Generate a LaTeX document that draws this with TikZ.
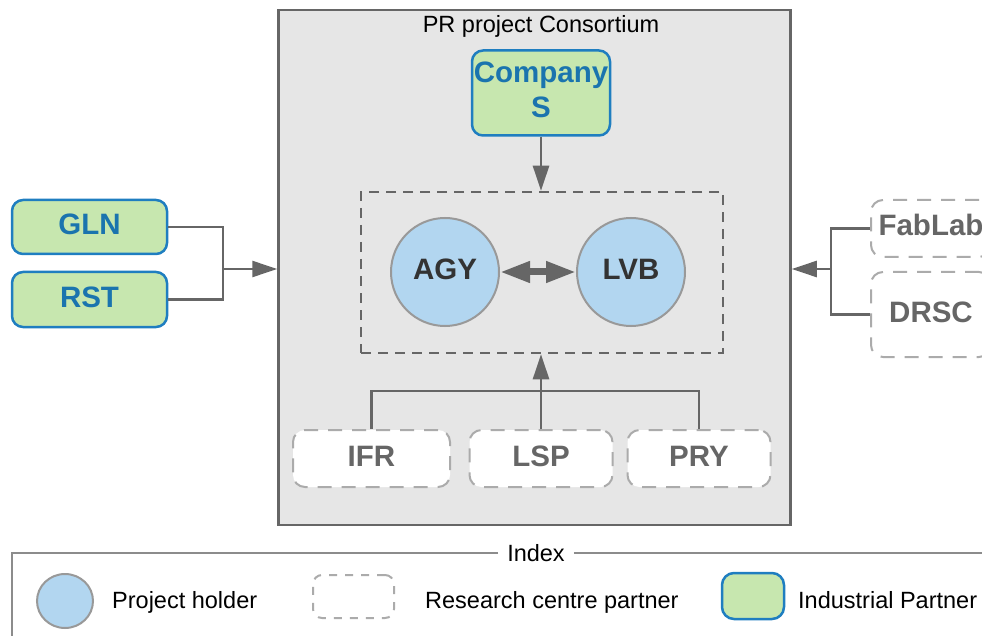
\documentclass[tikz,border=0pt]{standalone}
\usepackage{fontspec}
\setmainfont{Liberation Sans}
\usetikzlibrary{arrows.meta,shapes.geometric}
\definecolor{consfill}{HTML}{E6E6E6}
\definecolor{darkline}{HTML}{666666}
\definecolor{indfill}{HTML}{C7E7AF}
\definecolor{indline}{HTML}{1F7EC0}
\definecolor{indtext}{HTML}{1A74AE}
\definecolor{holdfill}{HTML}{B2D6F0}
\definecolor{holdline}{HTML}{999999}
\definecolor{resline}{HTML}{ABABAB}
\definecolor{restext}{HTML}{666666}
\definecolor{legline}{HTML}{8C8C8C}
\tikzset{
  bigtxt/.style={font=\fontsize{29.5}{35}\selectfont\bfseries, text height=21pt, text depth=6pt},
  smalltxt/.style={font=\fontsize{23.5}{28}\selectfont},
  industrial/.style={bigtxt, draw=indline, fill=indfill, text=indtext, line width=2.5pt,
    rounded corners=11pt, inner sep=0pt, align=center},
  research/.style={bigtxt, draw=resline, fill=white, text=restext, line width=2pt,
    dash pattern=on 14pt off 10pt, rounded corners=12pt, inner sep=0pt},
  holder/.style={bigtxt, circle, draw=holdline, fill=holdfill, text=black!80, line width=2pt,
    minimum size=108pt, inner sep=0pt},
  conn/.style={draw=darkline, line width=2.5pt},
  arr/.style={conn, -{Triangle[length=25pt,width=16pt]}},
}
\begin{document}
\begin{tikzpicture}[x=1pt,y=-1pt]
\path[use as bounding box, clip] (0,0) rectangle (982,636);
% consortium
\node[draw=darkline, fill=consfill, line width=2.5pt, minimum width=512pt, minimum height=515pt, inner sep=0pt] (cons) at (534.5,267.5) {};
\node[smalltxt, anchor=base] (title) at (541,33) {PR project Consortium};
% group of holders
\node[draw=darkline, line width=2.5pt, dash pattern=on 10pt off 7pt, minimum width=362pt, minimum height=161pt, inner sep=0pt] (grp) at (542,272.5) {};
\node[holder] (agy) at (445,272) {AGY};
\node[holder] (lvb) at (631,272) {LVB};
\draw[conn, line width=7pt, {Triangle[length=30pt,width=20pt]}-{Triangle[length=30pt,width=20pt]}] (agy) -- (lvb);
% company
\node[industrial, text height=, text depth=, minimum width=138pt, minimum height=85pt] (comp) at (541,93) {Company\\S\vphantom{y}};
\draw[arr] (comp.south) -- (comp.south |- grp.north);
% research partners inside
\node[research, minimum width=157pt, minimum height=57pt] (ifr) at (371.5,458.5) {IFR};
\node[research, minimum width=143pt, minimum height=57pt] (lsp) at (541,458.5) {LSP};
\node[research, minimum width=143pt, minimum height=57pt] (pry) at (699,458.5) {PRY};
\draw[conn] (ifr.north) -- ++(0,-38) -| (pry.north);
\draw[arr] (lsp.north) -- (lsp.north |- grp.south);
% left industrial partners
\node[industrial, minimum width=155pt, minimum height=54pt] (gln) at (89.5,227) {GLN};
\node[industrial, minimum width=155pt, minimum height=55pt] (rst) at (89.5,299.5) {RST};
\coordinate (jl) at (223,269);
\draw[conn] (gln.east) -| (jl) |- (rst.east);
\draw[arr] (jl) -- (jl -| cons.west);
% right research partners
\node[research, minimum width=120pt, minimum height=57pt] (fab) at (931,228.5) {FabLab};
\node[research, minimum width=120pt, minimum height=85pt] (drsc) at (931,314.5) {DRSC};
\coordinate (jr) at (831,269);
\draw[conn] (fab.west) -| (jr) |- (drsc.west);
\draw[arr] (jr) -- (jr -| cons.east);
% legend
\node[smalltxt, anchor=base, inner xsep=9pt] (idx) at (536,561) {Index};
\coordinate (legtl) at (12,553);
\coordinate (legtr) at (990,553);
\coordinate (legbl) at (12,640);
\draw[legline, line width=1.5pt] (idx.west |- legtl) -- (legtl) -- (legbl);
\draw[legline, line width=1.5pt] (idx.east |- legtr) -- (legtr);
\node[ellipse, draw=holdline, fill=holdfill, line width=2pt, minimum width=56pt, minimum height=54pt, inner sep=0pt] (legh) at (65,601) {};
\node[smalltxt, anchor=base west, inner sep=0pt] (leght) at (112,608) {Project holder};
\node[draw=resline, line width=2pt, dash pattern=on 8pt off 8pt, rounded corners=9pt, minimum width=81pt, minimum height=43pt, inner sep=0pt] (legr) at (353.5,596.5) {};
\node[smalltxt, anchor=base west, inner sep=0pt] (legrt) at (425,608) {Research centre partner};
\node[draw=indline, fill=indfill, line width=2.5pt, rounded corners=12pt, minimum width=62pt, minimum height=46pt, inner sep=0pt] (legi) at (753,596) {};
\node[smalltxt, anchor=base west, inner sep=0pt] (legit) at (798,608) {Industrial Partner};
\end{tikzpicture}
\end{document}
